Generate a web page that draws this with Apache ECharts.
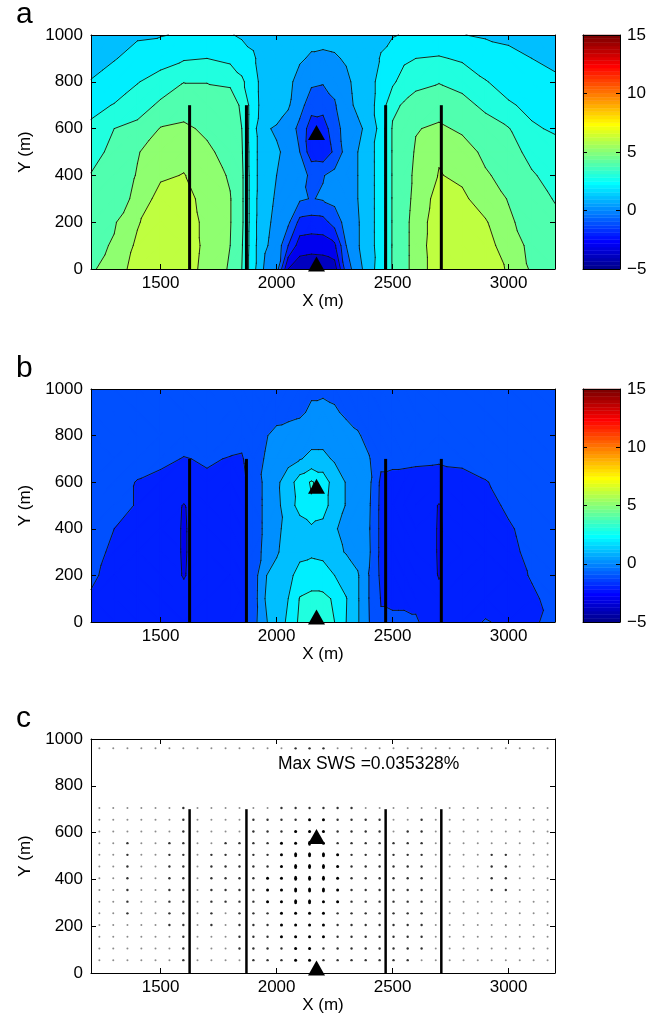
<!DOCTYPE html>
<html>
<head>
<meta charset="utf-8">
<script src="https://cdn.jsdelivr.net/npm/echarts@6/dist/echarts.min.js"></script>
<style>
html, body { margin: 0; padding: 0; background: #fff; }
#chart { width: 660px; height: 1020px; }
</style>
</head>
<body>
<div id="chart"></div>
<script>
const fontFamily = '"Liberation Sans", Arial, Helvetica, sans-serif'

// axis ticks
const xTicks = [1500, 2000, 2500, 3000]
const colorMin = -5
const colorMax = 15

// grid nodes of the contour maps (m)
const gridX = [1200, 1300, 1400, 1500, 1600, 1700, 1800, 1850, 1900, 1950, 2000, 2050, 2100, 2150, 2200, 2250, 2300, 2350, 2400, 2450, 2500, 2550, 2600, 2700, 2800, 2900, 3000, 3100, 3200]
const gridY = [1000, 900, 800, 700, 600, 500, 400, 300, 200, 100, 0]

// panel a, one row per gridY
const fieldA = [
  [1.3, 1.6, 1.9, 1.95, 2.1, 2.15, 2.05, 1.9, 1.8, 1.5, 1.4, 1.35, 1.3, 1.25, 1.25, 1.3, 1.4, 1.5, 1.6, 1.85, 1.95, 2.05, 2.1, 2.15, 2.02, 1.9, 1.8, 1.6, 1.45],
  [1.6, 1.95, 2.3, 2.6, 2.9, 3.0, 2.7, 2.4, 2.1, 1.6, 1.5, 1.3, 1.1, 0.9, 0.85, 0.9, 1.1, 1.4, 1.7, 2.05, 2.4, 2.8, 3.0, 3.1, 2.85, 2.5, 2.25, 2.0, 1.8],
  [2.05, 2.4, 2.95, 3.4, 3.98, 3.98, 3.95, 3.2, 2.3, 1.6, 1.5, 1.2, 0.7, 0.2, 0.1, 0.3, 0.8, 1.3, 1.7, 2.3, 2.8, 3.5, 3.8, 3.95, 3.7, 3.05, 2.65, 2.45, 2.15],
  [2.7, 3.05, 3.5, 4.2, 4.5, 4.3, 4.15, 3.95, 2.35, 1.6, 1.5, 1.1, 0.4, -0.6, -0.7, -0.1, 0.7, 1.2, 1.7, 2.4, 3.8, 4.1, 4.3, 4.6, 4.3, 3.8, 3.1, 2.8, 2.5],
  [3.2, 4.0, 4.3, 5.05, 5.2, 4.8, 4.4, 4.0, 2.3, 1.1, 0.9, 0.6, -0.3, -1.5, -1.4, -0.5, 0.5, 0.8, 1.3, 2.4, 4.1, 4.4, 4.95, 5.15, 4.85, 4.4, 4.05, 3.1, 2.9],
  [3.6, 4.3, 4.95, 5.4, 5.6, 5.2, 4.6, 4.1, 2.3, 1.4, 1.1, 0.8, 0.0, -1.6, -1.7, -0.8, 0.4, 1.0, 1.7, 2.4, 4.1, 4.5, 5.1, 5.9, 5.4, 4.8, 4.4, 3.7, 3.3],
  [4.05, 4.5, 5.05, 5.8, 6.05, 5.45, 4.9, 4.2, 2.3, 1.4, 1.0, 0.6, 0.3, -0.15, -0.05, 0.3, 0.6, 1.0, 1.7, 2.4, 4.1, 4.6, 5.2, 6.05, 5.8, 5.1, 4.7, 4.1, 3.65],
  [4.3, 4.7, 5.15, 6.5, 6.4, 5.6, 5.05, 4.2, 2.3, 1.3, 0.9, 0.5, 0.15, -0.05, 0.1, 0.3, 0.6, 1.0, 1.7, 2.4, 4.1, 4.6, 5.3, 6.4, 6.2, 5.5, 4.95, 4.35, 3.95],
  [4.5, 4.9, 5.9, 6.7, 6.6, 5.7, 5.05, 4.2, 2.3, 1.2, 0.8, 0.2, -1.3, -1.4, -1.35, -0.6, 0.4, 0.9, 1.7, 2.4, 4.1, 4.7, 5.4, 6.6, 6.6, 6.1, 5.15, 4.6, 4.2],
  [4.7, 5.1, 6.2, 6.8, 6.7, 5.7, 5.0, 4.1, 2.3, 1.1, 0.7, -1.0, -2.5, -2.6, -2.55, -2.2, 0.0, 0.9, 1.7, 2.4, 4.1, 4.7, 5.4, 6.7, 6.8, 6.4, 5.5, 4.75, 4.35],
  [4.85, 5.5, 6.4, 6.8, 6.6, 5.6, 4.9, 4.0, 2.3, 0.8, 0.5, -3.0, -3.6, -3.7, -3.65, -3.5, -0.5, 0.6, 1.6, 2.5, 4.1, 4.7, 5.4, 6.6, 6.8, 6.5, 5.9, 4.85, 4.5]
]

// panel b, one row per gridY
const fieldB = [
  [-0.5, -0.5, -0.5, -0.5, -0.5, -0.5, -0.5, -0.5, -0.5, -0.5, -0.5, -0.4, -0.3, -0.2, -0.2, -0.3, -0.4, -0.5, -0.5, -0.5, -0.5, -0.5, -0.5, -0.5, -0.5, -0.5, -0.5, -0.5, -0.5],
  [-0.5, -0.5, -0.5, -0.5, -0.5, -0.5, -0.5, -0.5, -0.5, -0.5, -0.4, -0.35, -0.2, 0.2, 0.3, 0.15, -0.2, -0.35, -0.5, -0.5, -0.5, -0.5, -0.5, -0.5, -0.5, -0.5, -0.5, -0.5, -0.5],
  [-0.5, -0.5, -0.5, -0.5, -0.55, -0.5, -0.6, -0.7, -0.45, -0.1, 0.3, 0.5, 0.6, 0.7, 0.7, 0.6, 0.45, 0.1, -0.3, -0.5, -0.5, -0.5, -0.5, -0.5, -0.5, -0.5, -0.5, -0.5, -0.5],
  [-0.5, -0.5, -0.6, -0.75, -1.05, -0.9, -1.05, -1.1, -0.4, 0.05, 0.4, 0.7, 0.95, 1.2, 1.2, 0.9, 0.7, 0.5, 0.05, -0.75, -0.75, -0.75, -0.8, -0.85, -0.8, -0.6, -0.5, -0.5, -0.5],
  [-0.5, -0.6, -1.05, -1.3, -1.5, -1.15, -1.3, -1.25, -0.6, 0.2, 0.8, 1.5, 2.5, 3.1, 2.6, 1.5, 0.95, 0.8, 0.2, -1.2, -1.3, -1.35, -1.4, -1.5, -1.3, -1.05, -0.7, -0.55, -0.5],
  [-0.55, -0.75, -1.05, -1.5, -2.04, -1.5, -1.4, -1.3, -0.6, 0.2, 0.7, 1.6, 2.3, 2.9, 2.4, 1.5, 0.95, 0.6, 0.1, -1.25, -1.35, -1.4, -1.45, -2.04, -1.5, -1.3, -0.85, -0.6, -0.5],
  [-0.6, -1.0, -1.3, -1.6, -2.06, -1.6, -1.4, -1.3, -0.6, 0.2, 0.8, 1.3, 1.6, 1.8, 1.7, 1.1, 0.7, 0.5, 0.05, -1.25, -1.35, -1.4, -1.45, -2.06, -1.6, -1.4, -1.1, -0.7, -0.55],
  [-0.65, -1.2, -1.4, -1.6, -2.06, -1.6, -1.4, -1.3, -0.6, 0.3, 0.9, 1.4, 1.7, 1.8, 1.7, 1.2, 0.95, 0.6, 0.1, -1.25, -1.3, -1.4, -1.45, -2.06, -1.6, -1.45, -1.2, -0.8, -0.6],
  [-0.85, -1.3, -1.4, -1.6, -2.04, -1.6, -1.4, -1.3, -0.55, 0.95, 1.3, 1.7, 2.4, 2.6, 2.5, 2.0, 1.5, 1.1, -0.05, -1.2, -1.25, -1.3, -1.35, -2.04, -1.55, -1.4, -1.25, -0.95, -0.7],
  [-1.1, -1.3, -1.4, -1.6, -1.8, -1.55, -1.4, -1.3, -0.5, 1.0, 1.3, 2.0, 3.05, 3.2, 3.2, 2.9, 2.05, 1.1, -0.05, -1.05, -1.1, -1.1, -1.1, -1.8, -1.5, -1.3, -1.2, -1.1, -0.8],
  [-1.0, -1.25, -1.35, -1.5, -1.6, -1.5, -1.35, -1.3, -0.4, 0.9, 1.4, 2.2, 3.2, 3.4, 3.3, 3.0, 2.0, 1.1, 0.0, -0.9, -0.9, -0.9, -0.95, -1.3, -1.3, -0.95, -1.15, -1.05, -0.9]
]
const contourLevels = [-5, -4, -3, -2, -1, 0, 1, 2, 3, 4, 5, 6, 7]

// wells and stations
const wellX = [1625, 1870, 2470, 2710]
const wellTop = 700
const markers = [[2172, 583], [2172, 21]]

// panel c: dot grid, size class per dot (1 faint .. 4 largest)
const dotX = [1236, 1296, 1357, 1417, 1478, 1538, 1598, 1659, 1719, 1780, 1840, 1900, 1961, 2021, 2082, 2142, 2202, 2263, 2323, 2384, 2444, 2504, 2565, 2625, 2686, 2746, 2806, 2867, 2927, 2988, 3048, 3108, 3168]
const dotY = [960, 705, 655, 605, 555, 505, 455, 405, 355, 305, 255, 205, 155, 105, 55]
const dotClass = [
  '111111111111112221111111111111111',
  '111111211111122222211111111111111',
  '111111211112222332222112111111111',
  '111111211112223332222122111111111',
  '112112211222233432222222111111111',
  '112112212222234443222222111122111',
  '112112212222234443222222111122111',
  '112112212222334443222222111122111',
  '112112212222334443222222111122111',
  '112112212222334433222222111111111',
  '112112212122233332222222111111111',
  '111112212122233332222222111111111',
  '111111211122233332222222111111111',
  '111111211122223322222222111111111',
  '111111211112223322222221111111111'
]
const maxText = 'Max SWS =0.035328%'

// matlab jet(64)
function jetByIndex(i) {
  let u = function (k) {
    if (k < 1 || k > 47) return 0
    if (k <= 16) return k / 16
    if (k <= 31) return 1
    return (48 - k) / 16
  }
  let r = u(i - 24), g = u(i - 8), b = u(i + 8)
  return 'rgb(' + Math.round(r * 255) + ',' + Math.round(g * 255) + ',' + Math.round(b * 255) + ')'
}
function jetColor(v) {
  let idx = Math.floor((v - colorMin) / (colorMax - colorMin) * 64)
  idx = Math.max(0, Math.min(63, idx))
  return jetByIndex(idx + 1)
}

function cellCorners(api, field, i, j) {
  return [[i, j], [i + 1, j], [i + 1, j + 1], [i, j + 1]].map(function (c) {
    let p = api.coord([gridX[c[0]], gridY[c[1]]])
    return [p[0], p[1], field[c[1]][c[0]]]
  })
}
function splitCell(q) {
  if (Math.abs(q[0][2] - q[2][2]) <= Math.abs(q[1][2] - q[3][2])) {
    return [[q[0], q[1], q[2]], [q[0], q[2], q[3]]]
  }
  return [[q[0], q[1], q[3]], [q[1], q[2], q[3]]]
}
function clipPoly(poly, level, keepAbove) {
  let out = []
  for (let k = 0; k < poly.length; k++) {
    let a = poly[k], b = poly[(k + 1) % poly.length]
    let ina = keepAbove ? a[2] >= level : a[2] <= level
    let inb = keepAbove ? b[2] >= level : b[2] <= level
    if (ina) out.push(a)
    if (ina !== inb) {
      let t = (level - a[2]) / (b[2] - a[2])
      out.push([a[0] + t * (b[0] - a[0]), a[1] + t * (b[1] - a[1]), level])
    }
  }
  return out
}
function fillRenderer(field) {
  return function (params, api) {
    let tris = splitCell(cellCorners(api, field, api.value(2), api.value(3)))
    let children = []
    tris.forEach(function (tri) {
      let vals = tri.map(function (p) { return p[2] })
      let lo = Math.min.apply(null, vals), hi = Math.max.apply(null, vals)
      for (let k = 0; k < contourLevels.length - 1; k++) {
        let a = contourLevels[k], b = contourLevels[k + 1]
        if (b < lo || a > hi) continue
        let poly = clipPoly(clipPoly(tri, a, true), b, false)
        if (poly.length < 3) continue
        let c = jetColor(a)
        children.push({
          type: 'polygon',
          shape: { points: poly.map(function (p) { return [p[0], p[1]] }) },
          style: { fill: c, stroke: c, lineWidth: 1.4, lineJoin: 'round' }
        })
      }
    })
    return { type: 'group', children: children }
  }
}
function lineRenderer(field) {
  return function (params, api) {
    let tris = splitCell(cellCorners(api, field, api.value(2), api.value(3)))
    let children = []
    tris.forEach(function (tri) {
      contourLevels.forEach(function (L) {
        let pts = []
        for (let e = 0; e < 3; e++) {
          let a = tri[e], b = tri[(e + 1) % 3]
          if ((a[2] >= L) !== (b[2] >= L)) {
            let t = (L - a[2]) / (b[2] - a[2])
            pts.push([a[0] + t * (b[0] - a[0]), a[1] + t * (b[1] - a[1])])
          }
        }
        if (pts.length === 2) {
          children.push({
            type: 'line',
            shape: { x1: pts[0][0], y1: pts[0][1], x2: pts[1][0], y2: pts[1][1] },
            style: { stroke: '#111', lineWidth: 0.9, lineCap: 'round' }
          })
        }
      })
    })
    return { type: 'group', children: children }
  }
}

let cells = []
for (let j = 0; j < gridY.length - 1; j++) {
  for (let i = 0; i < gridX.length - 1; i++) {
    cells.push([gridX[i], gridY[j], i, j])
  }
}
let colorbarCells = []
for (let k = 0; k < 64; k++) {
  colorbarCells.push([0, colorMin + (colorMax - colorMin) * k / 64, k])
}
let dotData = [[], [], [], []]
dotClass.forEach(function (row, r) {
  for (let c = 0; c < row.length; c++) {
    dotData[Number(row[c]) - 1].push([dotX[c], dotY[r]])
  }
})

const lineStyle = { color: '#000', width: 1 }
const labelStyle = { fontSize: 17, color: '#000', fontFamily: fontFamily }
const plainNumber = function (v) { return String(v) }

function panelXAxes(gi) {
  return [{
    gridIndex: gi, type: 'value', min: 1200, max: 3200, position: 'bottom', z: 10,
    axisLine: { show: true, onZero: false, lineStyle: lineStyle },
    axisTick: { show: true, inside: true, length: 5, customValues: xTicks, lineStyle: lineStyle },
    axisLabel: Object.assign({ customValues: xTicks, margin: 6, formatter: plainNumber }, labelStyle),
    splitLine: { show: false },
    name: 'X (m)', nameLocation: 'middle', nameGap: 24,
    nameTextStyle: { fontSize: 17, color: '#000', fontFamily: fontFamily }
  }, {
    gridIndex: gi, type: 'value', min: 1200, max: 3200, position: 'top', z: 10,
    axisLine: { show: true, onZero: false, lineStyle: lineStyle },
    axisTick: { show: true, inside: true, length: 5, customValues: xTicks, lineStyle: lineStyle },
    axisLabel: { show: false },
    splitLine: { show: false }
  }]
}
function panelYAxes(gi) {
  return [{
    gridIndex: gi, type: 'value', min: 0, max: 1000, interval: 200, position: 'left', z: 10,
    axisLine: { show: true, onZero: false, lineStyle: lineStyle },
    axisTick: { show: true, inside: true, length: 5, lineStyle: lineStyle },
    axisLabel: Object.assign({ margin: 8, formatter: plainNumber }, labelStyle),
    splitLine: { show: false },
    name: 'Y (m)', nameLocation: 'middle', nameGap: 46,
    nameTextStyle: { fontSize: 17, color: '#000', fontFamily: fontFamily }
  }, {
    gridIndex: gi, type: 'value', min: 0, max: 1000, interval: 200, position: 'right', z: 10,
    axisLine: { show: true, onZero: false, lineStyle: lineStyle },
    axisTick: { show: true, inside: true, length: 5, lineStyle: lineStyle },
    axisLabel: { show: false },
    splitLine: { show: false }
  }]
}
function barXAxes(gi) {
  return ['bottom', 'top'].map(function (pos) {
    return {
      gridIndex: gi, type: 'value', min: 0, max: 1, position: pos, z: 10,
      axisLine: { show: true, onZero: false, lineStyle: lineStyle },
      axisTick: { show: false }, axisLabel: { show: false }, splitLine: { show: false }
    }
  })
}
function barYAxes(gi) {
  return ['left', 'right'].map(function (pos) {
    return {
      gridIndex: gi, type: 'value', min: colorMin, max: colorMax, interval: 5, position: pos, z: 10,
      axisLine: { show: true, onZero: false, lineStyle: lineStyle },
      axisTick: { show: true, inside: true, length: 4, lineStyle: lineStyle },
      axisLabel: pos === 'right' ? Object.assign({
        margin: 7,
        formatter: function (v) { return v < 0 ? '\u2212' + Math.abs(v) : String(v) }
      }, labelStyle) : { show: false },
      splitLine: { show: false }
    }
  })
}

function contourSeries(field, ax) {
  return [{
    type: 'custom', coordinateSystem: 'cartesian2d', xAxisIndex: ax, yAxisIndex: ax,
    data: cells, encode: { x: 0, y: 1 }, renderItem: fillRenderer(field), silent: true, z: 1, clip: true
  }, {
    type: 'custom', coordinateSystem: 'cartesian2d', xAxisIndex: ax, yAxisIndex: ax,
    data: cells, encode: { x: 0, y: 1 }, renderItem: lineRenderer(field), silent: true, z: 3
  }]
}
function wellSeries(ax, width) {
  return {
    type: 'custom', coordinateSystem: 'cartesian2d', xAxisIndex: ax, yAxisIndex: ax,
    data: wellX.map(function (x) { return [x, wellTop] }), encode: { x: 0, y: 1 }, silent: true, z: 4,
    renderItem: function (params, api) {
      let p0 = api.coord([api.value(0), 0])
      let p1 = api.coord([api.value(0), api.value(1)])
      return { type: 'line', shape: { x1: p0[0], y1: p0[1], x2: p1[0], y2: p1[1] }, style: { stroke: '#000', lineWidth: width } }
    }
  }
}
function markerSeries(ax) {
  return {
    type: 'scatter', xAxisIndex: ax, yAxisIndex: ax, data: markers, symbol: 'triangle',
    symbolSize: [17, 15], itemStyle: { color: '#000', opacity: 1 }, silent: true, z: 5
  }
}
function colorbarSeries(xa, ya) {
  return {
    type: 'custom', coordinateSystem: 'cartesian2d', xAxisIndex: xa, yAxisIndex: ya,
    data: colorbarCells, encode: { x: 0, y: 1 }, silent: true, z: 1,
    renderItem: function (params, api) {
      let y0 = api.value(1)
      let p0 = api.coord([0, y0])
      let p1 = api.coord([1, y0 + (colorMax - colorMin) / 64])
      let c = jetByIndex(api.value(2) + 1)
      return {
        type: 'rect',
        shape: { x: p0[0], y: p1[1], width: p1[0] - p0[0], height: p0[1] - p1[1] },
        style: { fill: c, stroke: c, lineWidth: 0.5 }
      }
    }
  }
}

const dotStyles = [
  { size: 2, color: '#8c8c8c' },
  { size: 2.4, color: '#333' },
  { size: 3, color: '#000' },
  { size: [3, 5], color: '#000' }
]

let chart = echarts.init(document.getElementById('chart'), null, { renderer: 'canvas' })
let series = []
  .concat(contourSeries(fieldA, 0), [wellSeries(0, 3), markerSeries(0)])
  .concat(contourSeries(fieldB, 2), [wellSeries(2, 3), markerSeries(2)])
  .concat(dotData.map(function (d, k) {
    return {
      type: 'scatter', xAxisIndex: 4, yAxisIndex: 4, data: d, symbol: 'circle',
      symbolSize: dotStyles[k].size, itemStyle: { color: dotStyles[k].color, opacity: 1 }, silent: true, z: 2
    }
  }))
  .concat([wellSeries(4, 2.5), markerSeries(4)])
  .concat([colorbarSeries(6, 6), colorbarSeries(8, 8)])

let option = {
  animation: false,
  backgroundColor: '#fff',
  grid: [
    { left: 91, top: 35, width: 464, height: 234 },
    { left: 91, top: 389, width: 464, height: 233 },
    { left: 91, top: 739, width: 464, height: 234 },
    { left: 583, top: 35, width: 37, height: 234 },
    { left: 583, top: 389, width: 37, height: 233 }
  ],
  xAxis: [].concat(panelXAxes(0), panelXAxes(1), panelXAxes(2), barXAxes(3), barXAxes(4)),
  yAxis: [].concat(panelYAxes(0), panelYAxes(1), panelYAxes(2), barYAxes(3), barYAxes(4)),
  graphic: [
    { type: 'text', left: 16, top: 0, style: { text: 'a', fontSize: 30, fontFamily: fontFamily, fill: '#000' } },
    { type: 'text', left: 16, top: 354, style: { text: 'b', fontSize: 30, fontFamily: fontFamily, fill: '#000' } },
    { type: 'text', left: 16, top: 704, style: { text: 'c', fontSize: 30, fontFamily: fontFamily, fill: '#000' } },
    { type: 'text', left: 278, top: 755, style: { text: maxText, fontSize: 17.5, fontFamily: fontFamily, fill: '#000' } }
  ],
  series: series
}
chart.setOption(option)
</script>
</body>
</html>
